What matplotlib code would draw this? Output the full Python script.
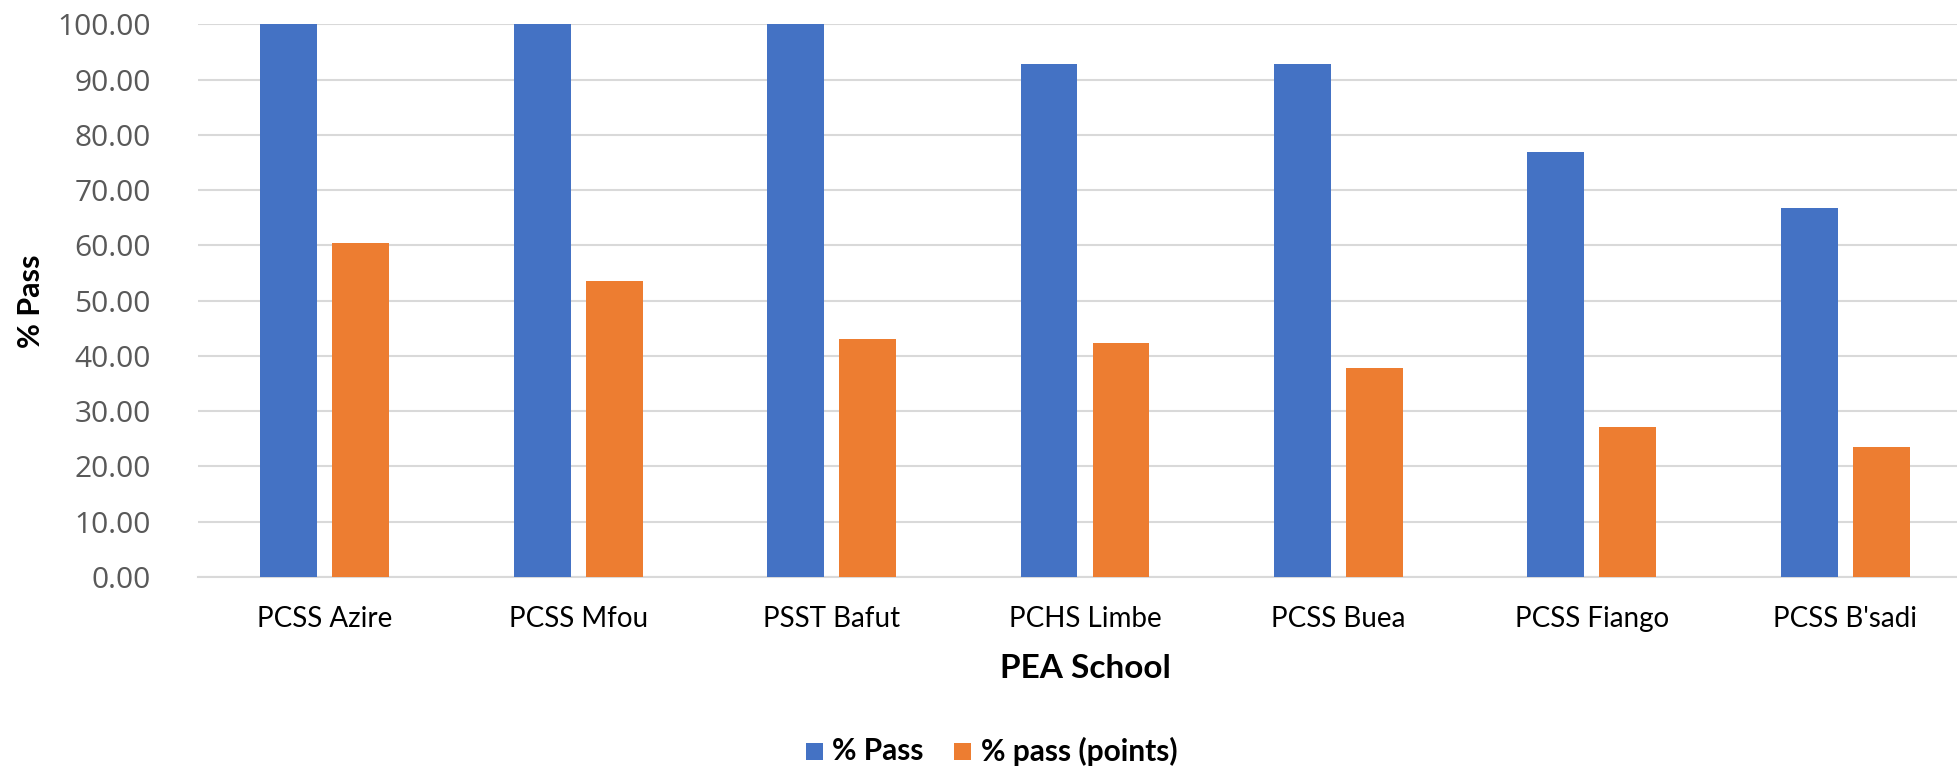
import matplotlib
matplotlib.use("Agg")
import matplotlib.pyplot as plt
import numpy as np
from matplotlib.patches import Rectangle

schools = ["PCSS Azire", "PCSS Mfou", "PSST Bafut", "PCHS Limbe", "PCSS Buea", "PCSS Fiango", "PCSS B'sadi"]
pct_pass = [100.0, 100.0, 100.0, 92.9, 92.9, 76.9, 66.7]
pct_pass_points = [60.5, 53.6, 43.1, 42.4, 37.9, 27.2, 23.6]
series_names = ["% Pass", "% pass (points)"]
yticks = [0, 10, 20, 30, 40, 50, 60, 70, 80, 90, 100]

BLUE = "#4472C4"
ORANGE = "#ED7D31"
GRID = "#D9D9D9"

W, H = 1957, 768
fig = plt.figure(figsize=(W / 100, H / 100), dpi=100)
left, right = 198 / W, 1972 / W
bottom, top = 1 - 577 / H, 1 - 24.3 / H
ax = fig.add_axes([left, bottom, right - left, top - bottom])

x = np.arange(len(schools))
bw = 0.224
off = 0.142
ax.bar(x - off, pct_pass, bw, color=BLUE, label=series_names[0], zorder=3)
ax.bar(x + off, pct_pass_points, bw, color=ORANGE, label=series_names[1], zorder=3)

ax.set_xlim(-0.5, len(schools) - 0.5)
ax.set_ylim(0, 100)
ax.set_yticks(yticks)
ax.set_yticklabels([f"{v:.2f}" for v in yticks], fontfamily="Open Sans", fontsize=21.5, color="#595959")
ax.set_xticks(x)
ax.set_xticklabels(schools, fontfamily="Lato", fontsize=20, color="black")
ax.tick_params(axis="y", length=0, pad=34)
ax.tick_params(axis="x", length=0, pad=21)
ax.grid(axis="y", color=GRID, linewidth=1.5, zorder=0)
for s in ["top", "right", "left"]:
    ax.spines[s].set_visible(False)
ax.spines["bottom"].set_color(GRID)
ax.spines["bottom"].set_linewidth(1.5)

fig.text(1085 / W, 1 - 669 / H, "PEA School", ha="center", va="center",
         fontfamily="Lato", fontweight="bold", fontsize=24)
fig.text(30.5 / W, 1 - 301 / H, "% Pass", ha="center", va="center", rotation=90,
         fontfamily="Lato", fontweight="bold", fontsize=22)

# legend
ly = 1 - 751 / H
sq = 17
for sx, tx, col, name in [(806, 832, BLUE, series_names[0]), (954, 981, ORANGE, series_names[1])]:
    fig.patches.append(Rectangle((sx / W, ly - sq / 2 / H), sq / W, sq / H, transform=fig.transFigure,
                                 facecolor=col, edgecolor="none"))
    fig.text(tx / W, ly, name, ha="left", va="center", fontfamily="Lato", fontweight="bold", fontsize=21.5)

fig.savefig("out.png", dpi=100, facecolor="white")
